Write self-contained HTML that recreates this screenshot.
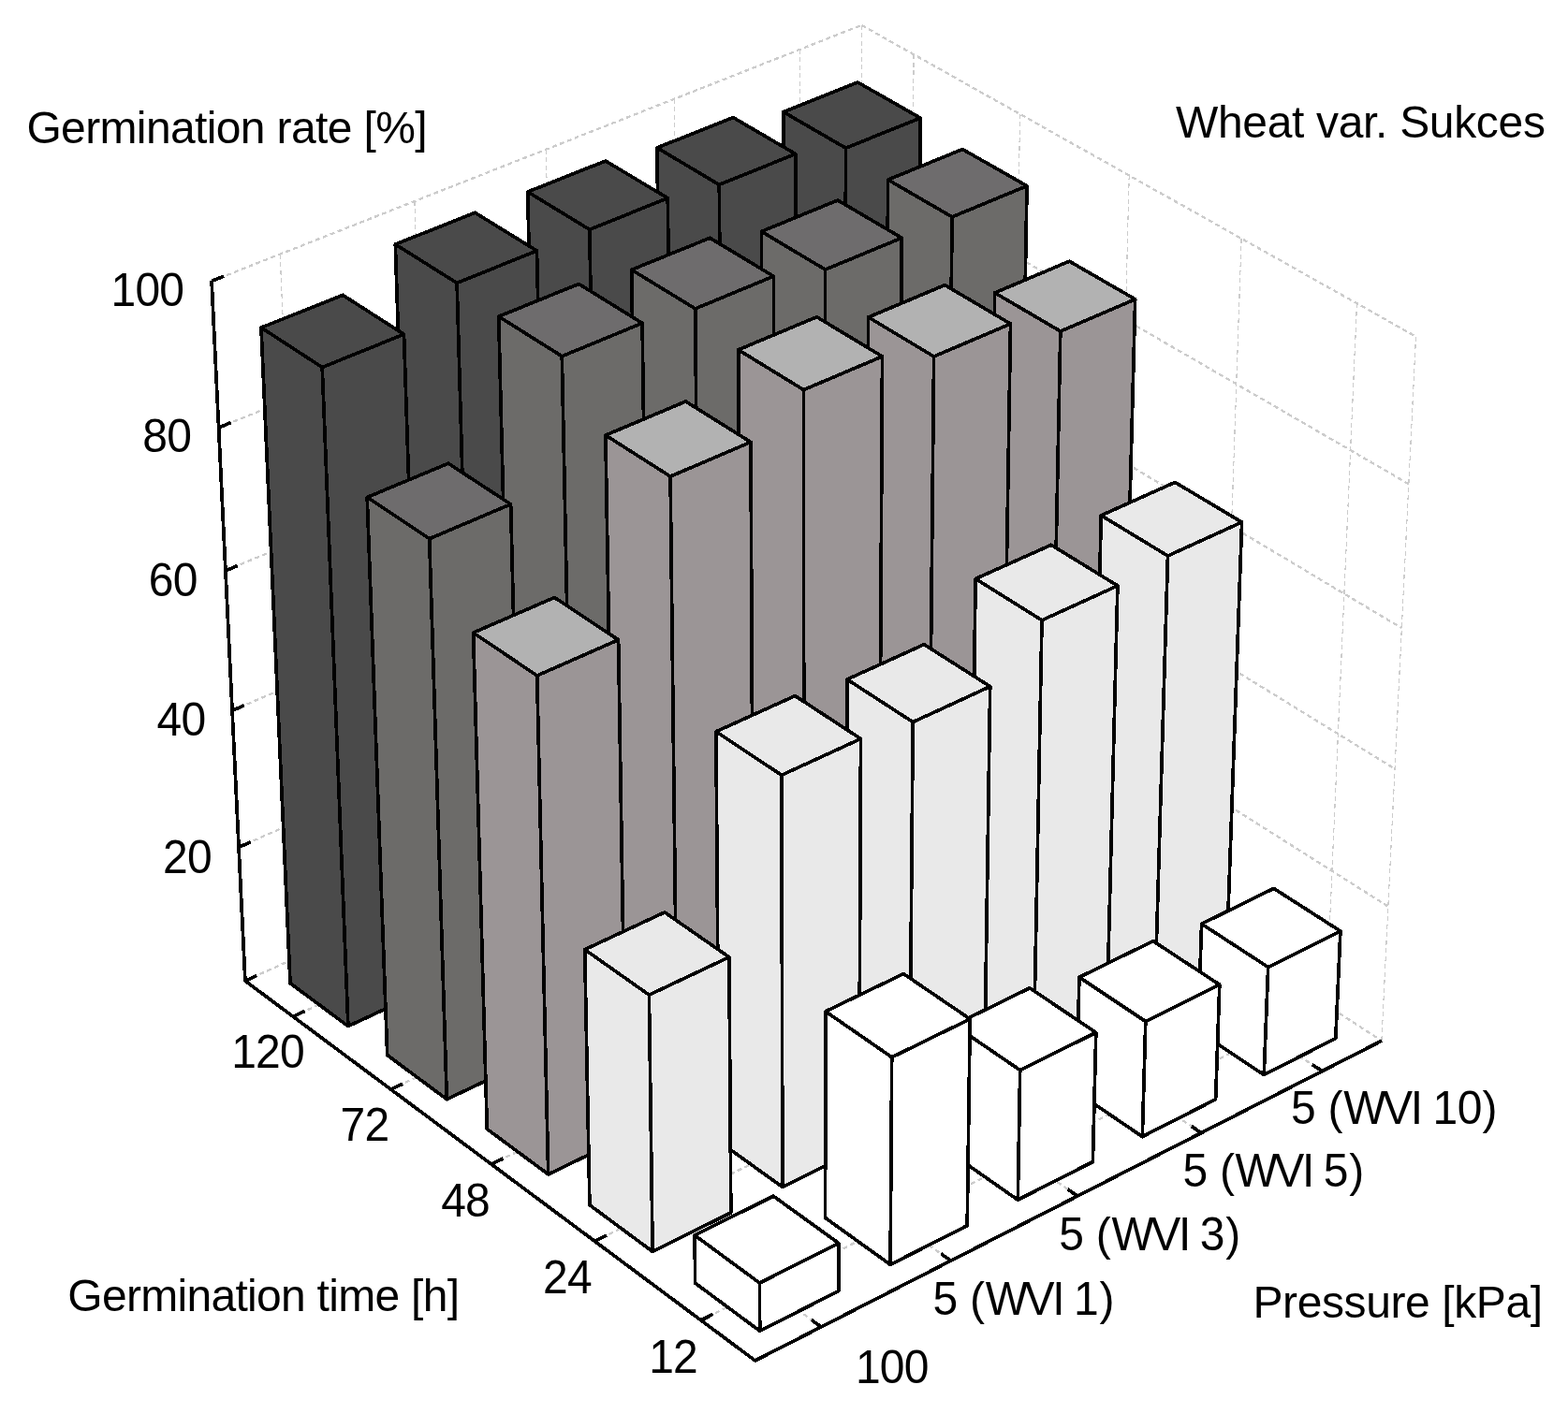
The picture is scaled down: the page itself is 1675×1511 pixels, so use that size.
<!DOCTYPE html>
<html lang="en">
<head>
<meta charset="utf-8">
<title>Germination rate – Wheat var. Sukces</title>
<style>
html,body{margin:0;padding:0;background:#fff;}
body{width:1675px;height:1511px;overflow:hidden;}
svg{display:block;}
</style>
</head>
<body>
<svg width="1675" height="1511" viewBox="0 0 1675 1511" role="img" aria-label="3D bar chart: germination rate of wheat var. Sukces by germination time and pressure">
<rect width="1675" height="1511" fill="#ffffff"/>
<path d="M299.2,271.6 L330.8,1016.8 M442.9,215.0 L466.2,955.1 M583.3,159.7 L598.7,894.8 M720.4,105.7 L728.3,835.7 M854.5,52.9 L855.1,777.9 M920.4,26.9 L917.5,749.5 M976.1,58.2 L970.2,783.7 M1089.6,121.9 L1077.5,853.4 M1206.2,187.5 L1187.6,924.9 M1326.1,254.9 L1300.6,998.3 M1449.5,324.2 L1416.7,1073.7 M1512.5,359.6 L1475.9,1112.2" fill="none" stroke="#cccccc" stroke-width="1.2" stroke-dasharray="5 3.5" shape-rendering="crispEdges"/>
<path d="M261.9,1048.2 L917.5,749.5 M917.5,749.5 L1475.9,1112.2 M255.1,905.4 L918.1,611.2 M918.1,611.2 L1482.8,968.6 M248.1,759.3 L918.7,469.9 M918.7,469.9 L1490.0,821.6 M240.9,609.9 L919.2,325.4 M919.2,325.4 L1497.3,671.2 M233.6,457.0 L919.8,177.8 M919.8,177.8 L1504.8,517.2 M226.1,300.4 L920.4,26.9 M920.4,26.9 L1512.5,359.6 M313.1,1086.3 L970.2,783.7 M417.5,1164.1 L1077.5,853.4 M524.9,1244.1 L1187.6,924.9 M635.3,1326.3 L1300.6,998.3 M748.8,1410.9 L1416.7,1073.7 M330.8,1016.8 L877.2,1418.0 M466.2,955.1 L1015.8,1347.3 M598.7,894.8 L1151.1,1278.1 M728.3,835.7 L1283.2,1210.6 M855.1,777.9 L1412.4,1144.6" fill="none" stroke="#cccccc" stroke-width="2.3" stroke-dasharray="5 3.5" shape-rendering="crispEdges"/>
<g stroke="#000" stroke-width="3.7" stroke-linejoin="round" stroke-linecap="round" shape-rendering="crispEdges">
<polygon points="838.3,809.0 901.6,851.0 903.5,158.2 836.8,119.6" fill="#4a4a4a"/>
<polygon points="901.6,851.0 977.1,816.0 983.1,126.1 903.5,158.2" fill="#4a4a4a"/>
<polygon points="836.8,119.6 903.5,158.2 983.1,126.1 916.2,87.9" fill="#4a4a4a"/>
<polygon points="710.5,867.5 773.5,910.4 768.3,197.4 701.9,157.9" fill="#4a4a4a"/>
<polygon points="773.5,910.4 850.7,874.6 849.8,164.5 768.3,197.4" fill="#4a4a4a"/>
<polygon points="701.9,157.9 768.3,197.4 849.8,164.5 783.2,125.6" fill="#4a4a4a"/>
<polygon points="579.9,927.2 642.6,971.1 629.8,245.3 563.7,205.0" fill="#4a4a4a"/>
<polygon points="642.6,971.1 721.5,934.5 713.3,211.7 629.8,245.3" fill="#4a4a4a"/>
<polygon points="563.7,205.0 629.8,245.3 713.3,211.7 646.9,172.0" fill="#4a4a4a"/>
<polygon points="446.4,988.3 508.7,1033.1 488.1,302.4 422.3,261.1" fill="#4a4a4a"/>
<polygon points="508.7,1033.1 589.4,995.7 573.5,268.0 488.1,302.4" fill="#4a4a4a"/>
<polygon points="422.3,261.1 488.1,302.4 573.5,268.0 507.5,227.3" fill="#4a4a4a"/>
<polygon points="310.0,1050.7 371.9,1096.6 344.2,392.5 279.0,350.1" fill="#4a4a4a"/>
<polygon points="371.9,1096.6 454.4,1058.3 431.5,357.2 344.2,392.5" fill="#4a4a4a"/>
<polygon points="279.0,350.1 344.2,392.5 431.5,357.2 366.1,315.3" fill="#4a4a4a"/>
<polygon points="944.4,879.4 1009.3,922.5 1017.1,231.8 948.6,192.1" fill="#6c6b69"/>
<polygon points="1009.3,922.5 1085.2,886.5 1097.0,198.7 1017.1,231.8" fill="#6c6b69"/>
<polygon points="948.6,192.1 1017.1,231.8 1097.0,198.7 1028.2,159.5" fill="#6e6c6d"/>
<polygon points="816.1,939.4 880.8,983.4 881.6,288.1 813.4,247.4" fill="#6c6b69"/>
<polygon points="880.8,983.4 958.3,946.7 963.3,254.2 881.6,288.1" fill="#6c6b69"/>
<polygon points="813.4,247.4 881.6,288.1 963.3,254.2 894.9,214.0" fill="#6e6c6d"/>
<polygon points="684.9,1000.7 749.3,1045.7 742.7,329.9 674.7,288.3" fill="#6c6b69"/>
<polygon points="749.3,1045.7 828.5,1008.2 826.4,295.2 742.7,329.9" fill="#6c6b69"/>
<polygon points="674.7,288.3 742.7,329.9 826.4,295.2 758.3,254.3" fill="#6e6c6d"/>
<polygon points="550.8,1063.4 614.9,1109.5 600.3,380.7 532.7,338.2" fill="#6c6b69"/>
<polygon points="614.9,1109.5 695.9,1071.1 686.1,345.3 600.3,380.7" fill="#6c6b69"/>
<polygon points="532.7,338.2 600.3,380.7 686.1,345.3 618.3,303.4" fill="#6e6c6d"/>
<polygon points="413.7,1127.5 477.3,1174.7 458.7,575.7 392.2,531.4" fill="#6c6b69"/>
<polygon points="477.3,1174.7 560.2,1135.4 545.6,538.8 458.7,575.7" fill="#6c6b69"/>
<polygon points="392.2,531.4 458.7,575.7 545.6,538.8 478.9,495.2" fill="#6e6c6d"/>
<polygon points="1053.2,951.6 1120.0,995.8 1132.8,354.0 1062.7,312.9" fill="#9b9596"/>
<polygon points="1120.0,995.8 1196.0,958.9 1212.7,319.8 1132.8,354.0" fill="#9b9596"/>
<polygon points="1062.7,312.9 1132.8,354.0 1212.7,319.8 1142.3,279.2" fill="#b2b2b2"/>
<polygon points="924.5,1013.2 990.9,1058.4 997.6,381.0 927.6,339.0" fill="#9b9596"/>
<polygon points="990.9,1058.4 1068.7,1020.7 1079.5,346.0 997.6,381.0" fill="#9b9596"/>
<polygon points="927.6,339.0 997.6,381.0 1079.5,346.0 1009.3,304.6" fill="#b2b2b2"/>
<polygon points="792.8,1076.2 858.9,1122.4 858.5,416.6 788.7,373.8" fill="#9b9596"/>
<polygon points="858.9,1122.4 938.5,1083.8 942.5,380.9 858.5,416.6" fill="#9b9596"/>
<polygon points="788.7,373.8 858.5,416.6 942.5,380.9 872.5,338.7" fill="#b2b2b2"/>
<polygon points="658.1,1140.6 723.9,1187.9 716.1,509.1 646.9,465.1" fill="#9b9596"/>
<polygon points="723.9,1187.9 805.3,1148.4 802.0,472.4 716.1,509.1" fill="#9b9596"/>
<polygon points="646.9,465.1 716.1,509.1 802.0,472.4 732.5,429.0" fill="#b2b2b2"/>
<polygon points="520.3,1206.5 585.7,1254.9 573.7,722.0 505.6,676.1" fill="#9b9596"/>
<polygon points="585.7,1254.9 669.0,1214.5 660.6,683.7 573.7,722.0" fill="#9b9596"/>
<polygon points="505.6,676.1 573.7,722.0 660.6,683.7 592.3,638.5" fill="#b2b2b2"/>
<polygon points="1165.0,1025.7 1233.5,1071.1 1247.5,594.0 1176.3,550.8" fill="#e9e9e9"/>
<polygon points="1233.5,1071.1 1309.9,1033.3 1326.6,558.0 1247.5,594.0" fill="#e9e9e9"/>
<polygon points="1176.3,550.8 1247.5,594.0 1326.6,558.0 1255.2,515.4" fill="#e9e9e9"/>
<polygon points="1035.8,1089.0 1104.0,1135.4 1113.0,662.8 1042.1,618.5" fill="#e9e9e9"/>
<polygon points="1104.0,1135.4 1182.1,1096.7 1193.9,625.9 1113.0,662.8" fill="#e9e9e9"/>
<polygon points="1042.1,618.5 1113.0,662.8 1193.9,625.9 1122.9,582.3" fill="#e9e9e9"/>
<polygon points="903.6,1153.7 971.5,1201.2 975.2,771.6 904.9,726.0" fill="#e9e9e9"/>
<polygon points="971.5,1201.2 1051.4,1161.6 1057.7,733.6 975.2,771.6" fill="#e9e9e9"/>
<polygon points="904.9,726.0 975.2,771.6 1057.7,733.6 987.2,688.7" fill="#e9e9e9"/>
<polygon points="768.3,1219.9 835.9,1268.5 834.9,828.3 764.9,781.8" fill="#e9e9e9"/>
<polygon points="835.9,1268.5 917.6,1228.0 919.5,789.5 834.9,828.3" fill="#e9e9e9"/>
<polygon points="764.9,781.8 834.9,828.3 919.5,789.5 849.3,743.6" fill="#e9e9e9"/>
<polygon points="629.9,1287.7 697.1,1337.4 693.4,1063.2 624.7,1014.7" fill="#e9e9e9"/>
<polygon points="697.1,1337.4 780.8,1295.9 778.9,1022.8 693.4,1063.2" fill="#e9e9e9"/>
<polygon points="624.7,1014.7 693.4,1063.2 778.9,1022.8 710.0,974.9" fill="#e9e9e9"/>
<polygon points="1279.8,1101.9 1350.2,1148.5 1354.7,1033.5 1283.6,987.3" fill="#ffffff"/>
<polygon points="1350.2,1148.5 1426.8,1109.6 1431.9,995.0 1354.7,1033.5" fill="#ffffff"/>
<polygon points="1283.6,987.3 1354.7,1033.5 1431.9,995.0 1360.7,949.4" fill="#ffffff"/>
<polygon points="1150.1,1166.9 1220.3,1214.6 1223.8,1091.5 1152.9,1044.3" fill="#ffffff"/>
<polygon points="1220.3,1214.6 1298.6,1174.8 1302.8,1052.2 1223.8,1091.5" fill="#ffffff"/>
<polygon points="1152.9,1044.3 1223.8,1091.5 1302.8,1052.2 1231.8,1005.6" fill="#ffffff"/>
<polygon points="1017.4,1233.4 1087.3,1282.2 1089.7,1143.6 1019.1,1095.4" fill="#ffffff"/>
<polygon points="1087.3,1282.2 1167.4,1241.5 1170.8,1103.4 1089.7,1143.6" fill="#ffffff"/>
<polygon points="1019.1,1095.4 1089.7,1143.6 1170.8,1103.4 1100.0,1055.8" fill="#ffffff"/>
<polygon points="881.6,1301.4 951.1,1351.4 952.7,1129.8 881.9,1080.8" fill="#ffffff"/>
<polygon points="951.1,1351.4 1033.2,1309.7 1036.2,1088.9 952.7,1129.8" fill="#ffffff"/>
<polygon points="881.9,1080.8 952.7,1129.8 1036.2,1088.9 965.2,1040.6" fill="#ffffff"/>
<polygon points="742.6,1371.1 811.7,1422.3 811.5,1371.0 742.1,1320.0" fill="#ffffff"/>
<polygon points="811.7,1422.3 895.8,1379.6 895.9,1328.5 811.5,1371.0" fill="#ffffff"/>
<polygon points="742.1,1320.0 811.5,1371.0 895.9,1328.5 826.2,1278.2" fill="#ffffff"/>
</g>
<path d="M226.1,300.4 L261.9,1048.2 L806.7,1454.0 L1475.9,1112.2 M261.9,1048.2 L274.4,1042.5 M255.1,905.4 L267.7,899.8 M248.1,759.3 L260.8,753.8 M240.9,609.9 L253.8,604.5 M233.6,457.0 L246.6,451.6 M226.1,300.4 L239.3,295.2 M313.1,1086.3 L325.6,1080.5 M417.5,1164.1 L430.1,1158.2 M524.9,1244.1 L537.5,1238.0 M635.3,1326.3 L647.9,1320.1 M748.8,1410.9 L761.5,1404.4 M877.2,1418.0 L866.7,1410.3 M1015.8,1347.3 L1005.2,1339.7 M1151.1,1278.1 L1140.4,1270.8 M1283.2,1210.6 L1272.6,1203.4 M1412.4,1144.6 L1401.7,1137.6" fill="none" stroke="#000" stroke-width="3.7" stroke-linejoin="miter" stroke-linecap="butt" shape-rendering="crispEdges"/>
<g font-family="'Liberation Sans', sans-serif" fill="#000">
<text x="28.4" y="152.7" font-size="48" letter-spacing="-0.63">Germination rate [%]</text>
<text x="1256.0" y="146.5" font-size="48" letter-spacing="-0.33">Wheat var. Sukces</text>
<text x="118.5" y="317.67" font-size="48" letter-spacing="-0.8" transform="scale(1 1.03)">100</text>
<text x="152.3" y="469.42" font-size="48" letter-spacing="-0.8" transform="scale(1 1.03)">80</text>
<text x="158.8" y="618.06" font-size="48" letter-spacing="-0.8" transform="scale(1 1.03)">60</text>
<text x="167.5" y="763.01" font-size="48" letter-spacing="-0.8" transform="scale(1 1.03)">40</text>
<text x="174.0" y="905.73" font-size="48" letter-spacing="-0.8" transform="scale(1 1.03)">20</text>
<text x="247.2" y="1107.86" font-size="48" letter-spacing="-0.8" transform="scale(1 1.03)">120</text>
<text x="363.6" y="1183.59" font-size="48" letter-spacing="-0.8" transform="scale(1 1.03)">72</text>
<text x="471.2" y="1261.84" font-size="48" letter-spacing="-0.8" transform="scale(1 1.03)">48</text>
<text x="580.1" y="1341.65" font-size="48" letter-spacing="-0.8" transform="scale(1 1.03)">24</text>
<text x="693.2" y="1424.17" font-size="48" letter-spacing="-0.8" transform="scale(1 1.03)">12</text>
<text x="913.9" y="1435.05" font-size="48" letter-spacing="-0.8" transform="scale(1 1.03)">100</text>
<text x="996.6 1022.5 1036.1 1052.8 1094.5 1124.2 1137.0 1147.0 1174.5" y="1364.56" font-size="48" transform="scale(1 1.03)">5 (WVI 1)</text>
<text x="1131.3 1157.2 1170.8 1187.5 1229.2 1258.9 1271.7 1281.7 1309.2" y="1296.99" font-size="48" transform="scale(1 1.03)">5 (WVI 3)</text>
<text x="1263.4 1289.3 1302.9 1319.6 1361.3 1391.0 1403.8 1413.8 1441.3" y="1231.07" font-size="48" transform="scale(1 1.03)">5 (WVI 5)</text>
<text x="1379.1 1405.0 1418.6 1435.3 1477.0 1506.7 1519.5 1530.5 1556.8 1583.5" y="1166.12" font-size="48" transform="scale(1 1.03)">5 (WVI 10)</text>
<text x="72.3" y="1400.8" font-size="48" letter-spacing="-0.71">Germination time [h]</text>
<text x="1338.5" y="1407.5" font-size="48" letter-spacing="-0.4">Pressure [kPa]</text>
</g>
</svg>
</body>
</html>
